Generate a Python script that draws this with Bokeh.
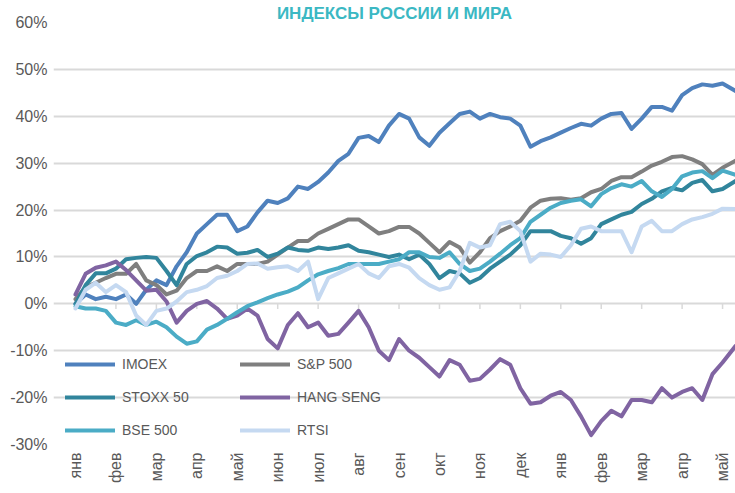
import math
from bokeh.plotting import figure
from bokeh.models import Range1d, FixedTicker, PrintfTickFormatter, Legend, LegendItem
from bokeh.embed import file_html
from bokeh.resources import INLINE

# Month labels (x axis): two-year span Jan .. May
months = ["янв", "фев", "мар", "апр", "май", "июн", "июл", "авг", "сен", "окт", "ноя", "дек",
          "янв", "фев", "мар", "апр", "май"]
month_pos = list(range(len(months)))
# weekly sample positions in months from start
weeks = [i / 4 for i in range(65)] + [16.32]

y_ticks = [-30, -20, -10, 0, 10, 20, 30, 40, 50, 60]

chart_title = "ИНДЕКСЫ РОССИИ И МИРА"
series_names = ["IMOEX", "S&P 500", "STOXX 50", "HANG SENG", "BSE 500", "RTSI"]

imoex = [0, 2, 1, 1.5, 1, 2, 0, 3, 5, 4, 8, 11, 15, 17, 19, 19,
         15.5, 16.5, 19.5, 22, 21.5, 22.5, 25, 24.5, 26, 28, 30.5, 32, 35.4, 35.8, 34.5, 38,
         40.5, 39.5, 35.5, 33.7, 36.5, 38.5, 40.5, 41, 39.5, 40.5, 39.8, 39.5, 38, 33.5, 34.7, 35.5,
         36.5, 37.5, 38.4, 38, 39.5, 40.5, 40.7, 37.3, 39.5, 42, 42, 41.2, 44.5, 46, 46.8, 46.5,
         47, 45.4]
sp500 = [1, 3.5, 4.5, 5.5, 6.4, 6.4, 8.5, 5, 4, 2, 2.8, 5.5, 7, 7, 8, 7,
         8.5, 8.5, 8.5, 9, 10.5, 12, 13.4, 13.4, 15, 16, 17, 18, 18, 16.5, 15, 15.5,
         16.4, 16.4, 15, 13, 11, 13.2, 12, 8.8, 11, 14, 15.5, 16.5, 17.7, 20.5, 22, 22.4,
         22.5, 22.2, 22.5, 23.8, 24.5, 26.2, 27, 27, 28.2, 29.5, 30.3, 31.3, 31.5, 30.8, 29.8, 27.5,
         29, 30.5]
stoxx50 = [0, 4, 6.5, 6.5, 7.5, 9.5, 9.8, 10, 9.8, 7, 4, 8.5, 10.2, 11, 12.2, 12,
           10.7, 10.9, 11.5, 10, 10.7, 12, 11.5, 11.3, 12, 11.7, 12, 12.5, 11.3, 11, 10.5, 10,
           10.5, 9.5, 10.5, 8.5, 5.5, 7, 6.5, 4.5, 5.5, 7.5, 9, 10.5, 12.5, 15.5, 15.5, 15.5,
           14.5, 14, 12.8, 14, 17, 18, 19, 19.6, 21.3, 22.4, 24, 24.7, 24.2, 25.8, 26.4, 24,
           24.5, 26.2]
hang_seng = [2, 6.4, 7.7, 8.2, 9, 7.2, 5, 2.8, 3, 0.5, -4, -1.5, 0, 0.6, -1, -3.2,
             -2.5, -1, -2.5, -7.5, -9.5, -4.5, -2, -5, -4, -6.8, -6.4, -4, -1.5, -5, -10, -12,
             -7.5, -10, -11.5, -13.5, -15.5, -12, -13, -16.4, -16, -14, -11.8, -13, -18, -21.3, -21, -19.6,
             -18.8, -20.5, -24, -28, -25, -22.8, -24, -20.5, -20.5, -21, -18, -20, -18.8, -18, -20.5, -15,
             -12.5, -9]
bse500 = [-0.5, -1, -1, -1.5, -4, -4.5, -3.5, -4.5, -3.8, -5, -7, -8.5, -8, -5.5, -4.5, -3.2,
          -1.8, -0.5, 0.3, 1.2, 2, 2.6, 3.5, 5, 6.3, 7, 7.6, 8.5, 8.5, 8.5, 8.5, 9,
          9.5, 11, 11, 10, 9.8, 11, 8.5, 7, 7.5, 9, 10.7, 12.5, 14, 17.5, 19, 20.5,
          21.5, 22, 22.3, 20.8, 23.4, 24.7, 25.5, 25, 26.2, 24, 22.8, 24.5, 27.2, 28, 28.3, 26.8,
          28.4, 27.5]
rtsi = [-1, 3, 4.5, 2.5, 4, 2.5, -2.5, -4.5, -1.5, -1, 0.5, 2.5, 3, 3.8, 5.5, 6,
        7, 8.5, 8.6, 7.5, 7.8, 8, 7, 9, 1, 5.5, 6.5, 7.5, 8.5, 6.5, 5.5, 8,
        8.5, 7.7, 5.5, 4, 3, 3.5, 7, 13, 12, 12.5, 17, 17.5, 15.5, 9, 10.7, 10.5,
        10, 12.5, 16, 16.5, 15.5, 15.5, 15.5, 11, 16.5, 17.7, 15.5, 15.5, 17, 18, 18.5, 19.2,
        20.3, 20.2]

series_values = [imoex, sp500, stoxx50, hang_seng, bse500, rtsi]
series_colors = ["#4f81bd", "#7f7f7f", "#31859c", "#8064a2", "#4bacc6", "#c5d9f1"]

FONT = "Liberation Sans"
TEXT_GREY = "#595959"
GRID = "#d9d9d9"

p = figure(width=735, height=493,
           x_range=Range1d(-0.544, 16.32), y_range=Range1d(-30, 60),
           output_backend="svg", toolbar_location=None,
           min_border_left=53, min_border_right=0, min_border_top=22, min_border_bottom=49)
p.outline_line_color = None
p.background_fill_color = "white"
p.border_fill_color = "white"

# title in the narrow band above the plot area
p.title.text = chart_title
p.title.align = "center"
p.title.text_color = "#3bb8c3"
p.title.text_font = FONT
p.title.text_font_size = "17px"
p.title.text_font_style = "bold"
p.title.standoff = 0
p.title.offset = 0

# x axis: labels only, at the bottom
p.xaxis.ticker = FixedTicker(ticks=month_pos)
p.xaxis.major_label_overrides = {i: m for i, m in zip(month_pos, months)}
p.xaxis.major_label_orientation = math.pi / 2
p.xaxis.axis_line_color = None
p.xaxis.major_tick_line_color = None
p.xaxis.minor_tick_line_color = None
p.xaxis.major_tick_out = 0
p.xaxis.major_tick_in = 0
p.xaxis.major_label_standoff = 8
p.xaxis.major_label_text_font = FONT
p.xaxis.major_label_text_font_size = "16px"
p.xaxis.major_label_text_color = TEXT_GREY
p.xgrid.grid_line_color = None

# y axis
p.yaxis.ticker = FixedTicker(ticks=y_ticks)
p.yaxis.formatter = PrintfTickFormatter(format="%d%%")
p.yaxis.axis_line_color = None
p.yaxis.major_tick_line_color = None
p.yaxis.minor_tick_line_color = None
p.yaxis.major_tick_out = 0
p.yaxis.major_tick_in = 0
p.yaxis.major_label_standoff = 6
p.yaxis.major_label_text_font = FONT
p.yaxis.major_label_text_font_size = "16px"
p.yaxis.major_label_text_color = TEXT_GREY
p.ygrid.grid_line_color = GRID
p.ygrid.grid_line_width = 2

# small tick marks hanging from the 0% line
p.segment(x0=month_pos, y0=[0] * len(month_pos), x1=month_pos, y1=[-1.1] * len(month_pos),
          line_color=GRID, line_width=1.5)

items = []
for name, vals, col in zip(series_names, series_values, series_colors):
    r = p.line(weeks, vals, line_color=col, line_width=4, line_join="round", line_cap="round")
    items.append(LegendItem(label=name, renderers=[r]))

legend = Legend(items=items, ncols=2, orientation="horizontal", location=(12, 4),
                glyph_width=50, glyph_height=20, label_height=20, label_width=105,
                label_standoff=7, spacing=13, padding=0, margin=0,
                border_line_color=None, background_fill_alpha=0,
                label_text_font=FONT, label_text_font_size="14px", label_text_color=TEXT_GREY)
p.add_layout(legend)

open("out.html", "w").write(file_html(p, INLINE))
